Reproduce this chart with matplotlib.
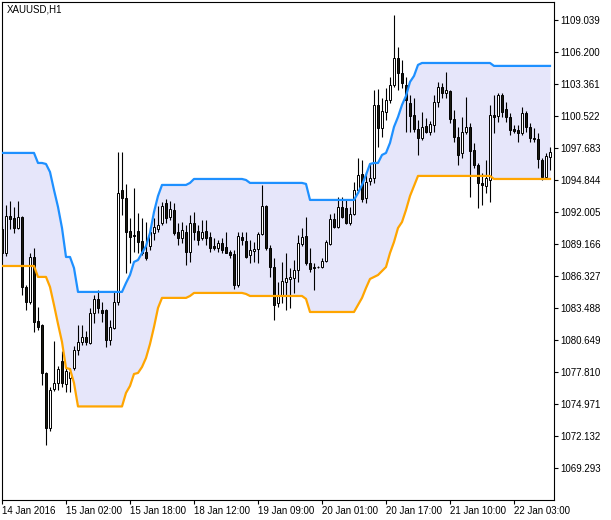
import matplotlib
matplotlib.use("Agg")
import matplotlib.pyplot as plt
import numpy as np

# hourly XAUUSD bars, 14 Jan 2016 10:00 onwards
opens = [
    1090.50, 1088.36, 1091.65, 1091.47, 1090.58, 1091.56, 1085.35, 1084.02, 1088.01, 1082.33,
    1081.98, 1077.72, 1072.84, 1076.30, 1076.83, 1078.78, 1076.74, 1077.28, 1078.16, 1079.76,
    1080.47, 1080.91, 1080.38, 1083.04, 1084.29, 1083.31, 1083.31, 1080.65, 1081.71, 1084.02,
    1093.95, 1093.25, 1090.32, 1089.96, 1090.32, 1089.43, 1088.45, 1088.98, 1090.14, 1090.50,
    1091.03, 1092.80, 1091.56, 1092.18, 1090.23, 1089.70, 1090.23, 1088.45, 1091.03, 1090.32,
    1089.70, 1090.32, 1089.79, 1088.98, 1088.81, 1089.26, 1088.90, 1088.45, 1088.27, 1085.53,
    1089.79, 1089.43, 1088.19, 1088.54, 1088.72, 1090.05, 1092.54, 1088.81, 1087.12, 1083.93,
    1084.55, 1085.79, 1086.06, 1086.15, 1086.86, 1089.17, 1089.88, 1087.48, 1087.12, 1087.12,
    1087.12, 1087.65, 1089.17, 1091.38, 1090.67, 1092.45, 1092.36, 1091.03, 1091.83, 1093.95,
    1095.38, 1093.25, 1094.76, 1095.02, 1101.50, 1099.46, 1100.88, 1101.94, 1103.27, 1105.67,
    1104.34, 1103.27, 1101.67, 1100.61, 1099.37, 1098.57, 1099.63, 1099.10, 1099.72, 1101.76,
    1103.09, 1102.56, 1102.74, 1100.26, 1098.66, 1097.24, 1099.10, 1099.55, 1097.50, 1096.17,
    1094.58, 1094.31, 1094.84, 1100.61, 1100.52, 1102.39, 1101.14, 1100.43, 1099.37, 1099.28,
    1099.01, 1100.79, 1099.55, 1098.57, 1098.48, 1096.62, 1095.11, 1096.88,
]
highs = [
    1090.76, 1092.63, 1092.98, 1092.45, 1092.98, 1091.65, 1085.53, 1088.36, 1088.81, 1083.58,
    1082.07, 1077.81, 1076.48, 1080.56, 1078.34, 1079.67, 1078.25, 1078.16, 1080.12, 1081.98,
    1081.98, 1081.44, 1083.49, 1084.64, 1085.08, 1084.02, 1083.40, 1082.42, 1084.91, 1097.33,
    1097.33, 1094.49, 1091.47, 1094.13, 1091.91, 1091.47, 1091.11, 1090.67, 1091.47, 1092.54,
    1092.89, 1093.15, 1092.98, 1092.80, 1091.03, 1091.11, 1090.85, 1091.74, 1092.00, 1090.85,
    1091.29, 1091.29, 1090.23, 1089.70, 1089.52, 1089.70, 1090.23, 1088.63, 1088.63, 1090.23,
    1090.23, 1090.23, 1089.52, 1089.34, 1090.23, 1094.40, 1092.63, 1089.08, 1087.92, 1085.79,
    1087.57, 1088.36, 1087.03, 1087.74, 1089.96, 1090.58, 1091.56, 1088.81, 1087.48, 1087.21,
    1087.92, 1089.52, 1091.83, 1091.91, 1093.33, 1093.33, 1093.07, 1092.45, 1094.67, 1096.79,
    1096.62, 1095.55, 1096.35, 1102.83, 1102.92, 1102.12, 1103.01, 1103.98, 1109.48, 1106.64,
    1105.49, 1103.98, 1102.39, 1102.12, 1100.17, 1100.88, 1100.34, 1100.08, 1102.39, 1103.54,
    1103.45, 1104.42, 1102.83, 1101.05, 1099.55, 1100.43, 1102.21, 1099.90, 1098.13, 1096.35,
    1095.46, 1096.62, 1101.50, 1102.39, 1102.56, 1102.56, 1101.76, 1100.79, 1099.72, 1099.72,
    1101.32, 1100.96, 1099.90, 1099.46, 1099.01, 1096.79, 1097.24, 1097.77,
]
lows = [
    1088.10, 1088.10, 1090.50, 1090.14, 1090.50, 1084.64, 1083.31, 1083.84, 1081.36, 1081.53,
    1076.66, 1071.33, 1072.57, 1076.12, 1076.21, 1076.48, 1076.03, 1076.03, 1077.99, 1079.32,
    1080.21, 1080.21, 1080.29, 1082.15, 1083.04, 1082.24, 1080.03, 1080.21, 1081.62, 1083.75,
    1091.74, 1086.59, 1087.48, 1088.45, 1088.36, 1088.19, 1087.74, 1088.63, 1089.52, 1090.23,
    1090.85, 1091.03, 1091.29, 1089.96, 1089.08, 1089.26, 1087.30, 1087.57, 1089.52, 1089.08,
    1089.52, 1089.08, 1088.45, 1088.63, 1088.45, 1088.36, 1088.36, 1087.92, 1085.17, 1085.35,
    1089.08, 1087.92, 1087.48, 1087.57, 1087.48, 1089.96, 1088.63, 1086.24, 1082.42, 1083.58,
    1083.93, 1083.31, 1083.49, 1084.82, 1085.79, 1088.98, 1087.30, 1086.68, 1085.08, 1087.03,
    1087.03, 1087.57, 1089.08, 1090.58, 1090.58, 1091.47, 1090.94, 1090.85, 1091.74, 1093.69,
    1092.89, 1092.80, 1094.40, 1094.58, 1097.77, 1098.66, 1100.17, 1101.67, 1103.09, 1102.83,
    1103.01, 1099.10, 1099.10, 1099.10, 1097.06, 1098.39, 1099.01, 1098.84, 1099.10, 1101.32,
    1102.12, 1102.12, 1099.90, 1098.21, 1096.17, 1096.79, 1098.92, 1093.34, 1095.91, 1092.36,
    1092.63, 1093.69, 1092.89, 1099.01, 1099.99, 1100.43, 1099.99, 1098.84, 1099.01, 1098.21,
    1098.84, 1099.10, 1098.21, 1098.21, 1095.91, 1094.84, 1094.93, 1095.73,
]
closes = [
    1088.36, 1091.65, 1091.38, 1090.58, 1091.56, 1085.35, 1084.02, 1088.01, 1082.24, 1081.80,
    1077.72, 1072.84, 1076.21, 1076.83, 1078.07, 1076.83, 1077.90, 1077.81, 1079.76, 1080.47,
    1080.91, 1080.47, 1083.04, 1084.29, 1083.49, 1083.04, 1080.65, 1081.80, 1084.02, 1093.69,
    1093.25, 1090.23, 1089.79, 1089.88, 1089.34, 1088.36, 1087.92, 1090.23, 1090.67, 1090.85,
    1092.54, 1091.47, 1092.27, 1090.14, 1089.70, 1090.41, 1088.45, 1091.03, 1090.23, 1089.52,
    1090.23, 1089.70, 1088.81, 1088.81, 1089.26, 1088.63, 1088.40, 1088.19, 1085.53, 1089.88,
    1089.52, 1088.01, 1088.63, 1088.72, 1090.05, 1092.54, 1088.81, 1087.12, 1083.75, 1084.55,
    1085.88, 1086.15, 1086.24, 1086.86, 1089.26, 1089.79, 1087.48, 1086.95, 1087.03, 1087.12,
    1087.65, 1089.34, 1091.38, 1090.67, 1092.45, 1091.56, 1091.03, 1091.83, 1093.95, 1095.29,
    1093.15, 1094.67, 1095.02, 1101.50, 1099.46, 1100.96, 1101.94, 1103.27, 1105.67, 1104.34,
    1103.45, 1101.94, 1100.52, 1099.37, 1098.57, 1099.55, 1099.10, 1099.81, 1101.76, 1103.09,
    1102.56, 1102.83, 1100.26, 1098.66, 1097.06, 1099.10, 1099.55, 1097.42, 1096.17, 1094.58,
    1094.40, 1095.02, 1100.61, 1100.43, 1102.39, 1100.88, 1100.43, 1099.28, 1099.19, 1099.01,
    1100.79, 1099.55, 1098.57, 1098.48, 1096.71, 1095.11, 1096.97, 1097.33,
]

# channel indicator
upper = [
    1097.24, 1097.24, 1097.24, 1097.24, 1097.24, 1097.24, 1097.24, 1097.24, 1097.24, 1096.35,
    1096.35, 1096.26, 1095.55, 1093.95, 1092.45, 1090.58, 1088.01, 1088.01, 1087.03, 1084.91,
    1084.91, 1084.91, 1084.91, 1084.91, 1084.91, 1084.91, 1084.91, 1084.91, 1084.91, 1084.91,
    1084.91, 1085.70, 1086.41, 1087.57, 1087.74, 1088.36, 1088.98, 1090.14, 1092.00, 1093.42,
    1094.40, 1094.40, 1094.40, 1094.40, 1094.40, 1094.40, 1094.40, 1094.58, 1094.93, 1094.93,
    1094.93, 1094.93, 1094.93, 1094.93, 1094.93, 1094.93, 1094.93, 1094.93, 1094.93, 1094.93,
    1094.93, 1094.84, 1094.58, 1094.58, 1094.58, 1094.58, 1094.58, 1094.58, 1094.58, 1094.58,
    1094.58, 1094.58, 1094.58, 1094.58, 1094.58, 1094.58, 1094.49, 1093.07, 1093.07, 1093.07,
    1093.07, 1093.07, 1093.07, 1093.07, 1093.07, 1093.07, 1093.07, 1093.07, 1093.07, 1093.69,
    1094.40, 1095.29, 1096.26, 1096.35, 1096.35, 1097.06, 1097.24, 1098.13, 1099.55, 1100.43,
    1101.50, 1102.30, 1103.54, 1104.07, 1105.05, 1105.22, 1105.22, 1105.22, 1105.22, 1105.22,
    1105.22, 1105.22, 1105.22, 1105.22, 1105.22, 1105.22, 1105.22, 1105.22, 1105.22, 1105.22,
    1105.22, 1105.22, 1105.22, 1104.96, 1104.96, 1104.96, 1104.96, 1104.96, 1104.96, 1104.96,
    1104.96, 1104.96, 1104.96, 1104.96, 1104.96, 1104.96, 1104.96, 1104.96,
]
lower = [
    1087.21, 1087.21, 1087.21, 1087.21, 1087.21, 1087.21, 1087.21, 1087.21, 1087.21, 1086.24,
    1086.24, 1086.24, 1085.35, 1083.75, 1082.07, 1080.47, 1078.16, 1078.07, 1076.83, 1074.75,
    1074.75, 1074.75, 1074.75, 1074.75, 1074.75, 1074.75, 1074.75, 1074.75, 1074.75, 1074.75,
    1074.75, 1075.95, 1076.57, 1077.63, 1077.72, 1078.25, 1079.05, 1080.29, 1081.80, 1083.49,
    1084.38, 1084.38, 1084.38, 1084.38, 1084.38, 1084.38, 1084.38, 1084.55, 1084.82, 1084.82,
    1084.82, 1084.82, 1084.82, 1084.82, 1084.82, 1084.82, 1084.82, 1084.82, 1084.82, 1084.82,
    1084.82, 1084.73, 1084.55, 1084.55, 1084.55, 1084.55, 1084.55, 1084.55, 1084.55, 1084.55,
    1084.55, 1084.55, 1084.55, 1084.55, 1084.55, 1084.55, 1084.29, 1083.13, 1083.13, 1083.13,
    1083.13, 1083.13, 1083.13, 1083.13, 1083.13, 1083.13, 1083.13, 1083.13, 1083.13, 1083.75,
    1084.38, 1085.26, 1086.06, 1086.24, 1086.41, 1086.77, 1087.12, 1088.36, 1089.34, 1090.58,
    1091.11, 1092.18, 1093.42, 1094.31, 1095.20, 1095.20, 1095.20, 1095.20, 1095.20, 1095.20,
    1095.20, 1095.20, 1095.20, 1095.20, 1095.20, 1095.20, 1095.20, 1095.20, 1095.20, 1095.20,
    1095.20, 1095.20, 1095.20, 1094.93, 1094.93, 1094.93, 1094.93, 1094.93, 1094.93, 1094.93,
    1094.93, 1094.93, 1094.93, 1094.93, 1094.93, 1094.93, 1094.93, 1094.93,
]

time_labels = ["14 Jan 2016", "15 Jan 02:00", "15 Jan 18:00", "18 Jan 12:00",
               "19 Jan 09:00", "20 Jan 01:00", "20 Jan 17:00", "21 Jan 10:00",
               "22 Jan 03:00"]
price_ticks = [1069.293, 1072.132, 1074.971, 1077.810, 1080.649, 1083.488, 1086.327,
               1089.166, 1092.005, 1094.844, 1097.683, 1100.522, 1103.361, 1106.200,
               1109.039]

plt.rcParams["font.family"] = ["Liberation Sans", "DejaVu Sans"]

o = np.array(opens)
h = np.array(highs)
l = np.array(lows)
c = np.array(closes)
x = np.arange(len(o))
bull = c >= o

fig = plt.figure(figsize=(6.11, 5.2), dpi=100)
ax = fig.add_axes([2 / 611, 20 / 520, 552 / 611, 498 / 520])

ax.fill_between(x, lower, upper, color="#e6e6fa", lw=0, zorder=1)

ax.vlines(x, l, h, color="black", lw=0.8, zorder=2)
ax.bar(x, np.abs(c - o), bottom=np.minimum(o, c), width=0.5,
       color=np.where(bull, "white", "#1a1a10"), edgecolor="black", lw=0.7, zorder=3)

ax.plot(x, upper, color="#1e90ff", lw=1.6, zorder=4)
ax.plot(x, lower, color="#ffa500", lw=1.6, zorder=4)

ax.set_xlim(0, 138)
ax.set_ylim(1066.45, 1110.63)

ax.yaxis.tick_right()
ax.set_yticks(price_ticks)
ax.set_yticklabels([f"{v:.3f}" for v in price_ticks])
ax.set_xticks(np.arange(len(time_labels)) * 16)
ax.set_xticklabels(time_labels, ha="left")
ax.tick_params(axis="both", direction="out", length=3, width=0.8, labelsize=7, pad=1.5)
for lab in ax.get_xticklabels():
    lab.set_x(lab.get_position()[0])
for sp in ax.spines.values():
    sp.set_linewidth(0.8)

fig.text(7 / 611, 1 - 10 / 520, "XAUUSD,H1", fontsize=7, va="center", ha="left")

fig.savefig("out.png", dpi=100)
plt.close(fig)
